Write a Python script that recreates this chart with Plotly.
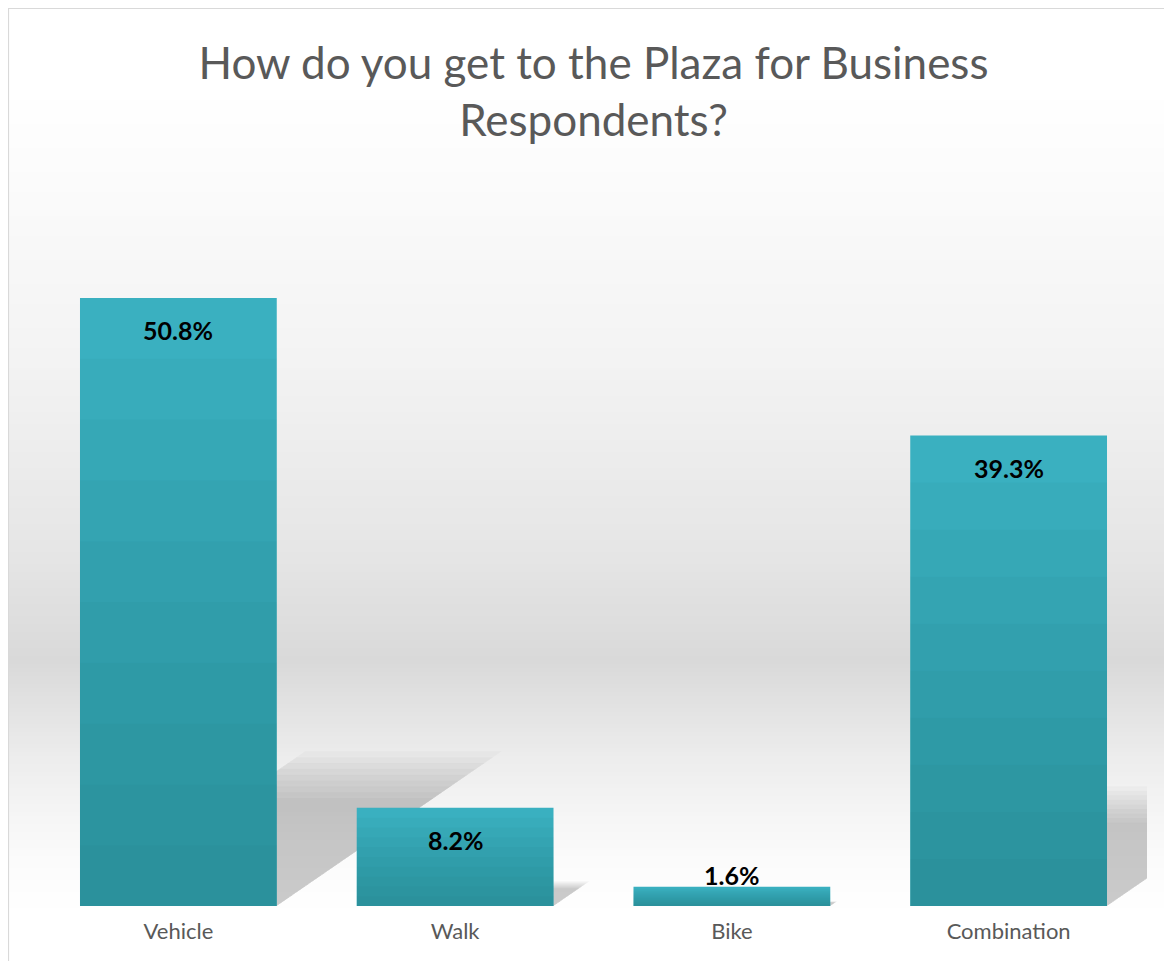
import plotly.graph_objects as go

# --- data ---
MODES = ["Vehicle", "Walk", "Bike", "Combination"]
SHARES = [50.8, 8.2, 1.6, 39.3]
TITLE = "How do you get to the Plaza for Business<br>Respondents?"

# --- style ---
FONT = "Lato"
TXT_GREY = "#595959"
BAR_TOP = "#3AB0C0"
BAR_SHADE = "rgba(20,90,100,0.045)"
W, H = 1164, 953          # page body adds an 8px margin
M_L, M_R, M_T, M_B = 32, 25, 172, 55
BAR_W = 0.711
Y_MAX = 60.65

PLOT_W = W - M_L - M_R
PLOT_H = H - M_T - M_B


def px_x(px):
    return (px - M_L) / PLOT_W


def px_y(py):
    return (H - M_B - py) / PLOT_H


# background gradient stops (pixel row in figure, grey level)
BG_STOPS = [(0, 255), (80, 255), (152, 252), (352, 243), (552, 229),
            (652, 217), (692, 225), (752, 237), (812, 246), (852, 251), (905, 255), (953, 255)]


def grey_at(py):
    for (y0, g0), (y1, g1) in zip(BG_STOPS, BG_STOPS[1:]):
        if y0 <= py <= y1:
            t = (py - y0) / (y1 - y0)
            return round(g0 + (g1 - g0) * t)
    return 255


shapes = []
step = 4
for py in range(0, H, step):
    g = grey_at(py + step / 2)
    if g >= 255:
        continue
    shapes.append(dict(type="rect", xref="paper", yref="paper", layer="below",
                       x0=px_x(0), x1=px_x(W + 2), y0=px_y(py + step), y1=px_y(py),
                       line=dict(width=0), fillcolor=f"rgb({g},{g},{g})"))

# perspective shadows behind the bars, sized from the values
SHADOW_SCALES = [0.74, 0.78, 0.82, 0.86, 0.9, 0.94, 0.98, 1.02, 1.06]
for i, v in enumerate(SHARES):
    dx, dy = 0.0151 * v, 0.24 * v
    x0, x1 = i - BAR_W / 2, i + BAR_W / 2
    for k in SHADOW_SCALES:
        path = (f"M {x0},0 L {x1},0 L {x1 + dx * k},{dy * k} "
                f"L {x0 + dx * k},{dy * k} Z")
        shapes.append(dict(type="path", xref="x", yref="y", layer="below", path=path,
                           line=dict(width=0), fillcolor="rgba(0,0,0,0.024)"))

# chart border
shapes.append(dict(type="rect", xref="paper", yref="paper", layer="above",
                   x0=px_x(0.5), x1=px_x(W + 5), y0=px_y(H + 5), y1=px_y(0.5),
                   line=dict(color="#D9D9D9", width=1.2), fillcolor="rgba(0,0,0,0)"))

fig = go.Figure()
xs = list(range(len(MODES)))

fig.add_trace(go.Bar(x=xs, y=SHARES, width=BAR_W, marker=dict(color=BAR_TOP, line=dict(width=0)),
                     customdata=MODES, hovertemplate="%{customdata}: %{y}%<extra></extra>",
                     showlegend=False))

# darker towards the bottom of each bar
N = 10
for k in range(1, N):
    fig.add_trace(go.Bar(x=xs, y=[v * k / N for v in SHARES], width=BAR_W,
                         marker=dict(color=BAR_SHADE, line=dict(width=0)),
                         hoverinfo="skip", showlegend=False))

# value labels: inside near the top, or just above a short bar
annotations = []
for i, v in enumerate(SHARES):
    inside = v * PLOT_H / Y_MAX > 60
    annotations.append(dict(x=i, y=v, xref="x", yref="y", text=f"<b>{v}%</b>",
                            showarrow=False, yanchor="middle",
                            yshift=-32 if inside else 12,
                            font=dict(family=FONT, size=25, color="black")))

fig.update_layout(
    width=W, height=H,
    barmode="overlay",
    paper_bgcolor="white", plot_bgcolor="rgba(0,0,0,0)",
    margin=dict(l=M_L, r=M_R, t=M_T, b=M_B),
    title=dict(text=TITLE, x=0.5, xanchor="center", xref="paper",
               y=0.926, yanchor="top", yref="container",
               font=dict(family=FONT, size=44, color=TXT_GREY)),
    font=dict(family=FONT, color=TXT_GREY),
    xaxis=dict(tickvals=xs, ticktext=MODES, range=[-0.5, len(MODES) - 0.5],
               showgrid=False, zeroline=False, showline=False, ticks="",
               ticklabelstandoff=10,
               tickfont=dict(family=FONT, size=22, color=TXT_GREY)),
    yaxis=dict(range=[0, Y_MAX], visible=False, showgrid=False, zeroline=False),
    shapes=shapes,
    annotations=annotations,
)

fig.write_html("out.html")
